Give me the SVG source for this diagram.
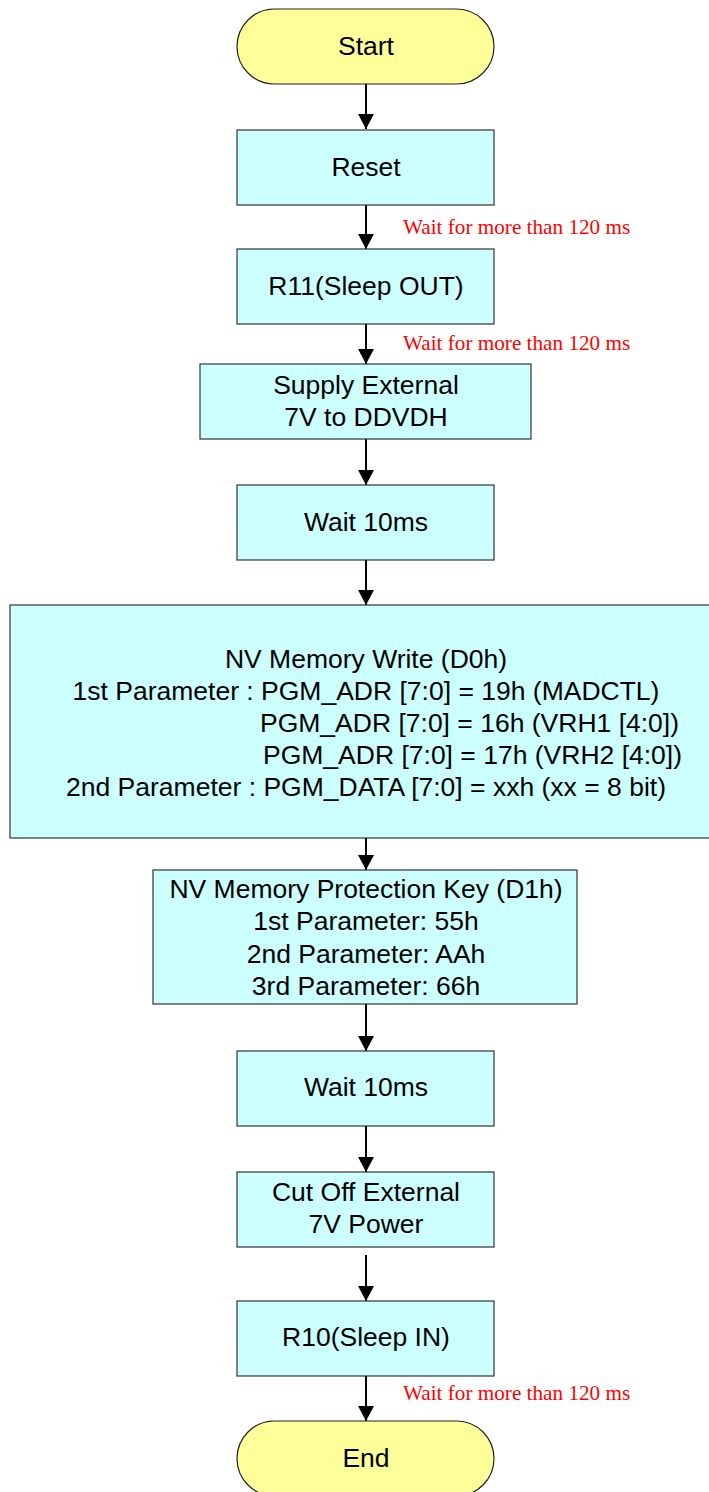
<svg xmlns="http://www.w3.org/2000/svg" width="709" height="1492" viewBox="0 0 709 1492">
<style>
.box{fill:#CCFFFF;stroke:#333;stroke-width:1.2}
.term{fill:#FFFF99;stroke:#222;stroke-width:1.2}
.t{font-family:"Liberation Sans",Arial,sans-serif;font-size:26.5px;fill:#000;text-anchor:middle}
.ts{font-family:"Liberation Sans",Arial,sans-serif;font-size:26.5px;fill:#000}
.note{font-family:"Liberation Serif","Times New Roman",serif;font-size:21.2px;fill:#FF0000}
.c{stroke:#000;stroke-width:2;fill:none;marker-end:url(#ah)}
</style>
<defs>
<marker id="ah" markerUnits="userSpaceOnUse" markerWidth="18" markerHeight="18" viewBox="0 0 18 18" refX="15" refY="9" orient="auto">
<path d="M0,1 L15,9 L0,17 Z" fill="#000"/>
</marker>
</defs>
<rect width="709" height="1492" fill="#fff"/>
<g id="connectors">
<line class="c" x1="366" y1="84" x2="366" y2="129"/>
<line class="c" x1="366" y1="205" x2="366" y2="249"/>
<line class="c" x1="366" y1="324" x2="366" y2="364"/>
<line class="c" x1="366" y1="439" x2="366" y2="485"/>
<line class="c" x1="366" y1="560" x2="366" y2="605"/>
<line class="c" x1="366" y1="838" x2="366" y2="870"/>
<line class="c" x1="366" y1="1004" x2="366" y2="1051"/>
<line class="c" x1="366" y1="1126" x2="366" y2="1172"/>
<line class="c" x1="366" y1="1255" x2="366" y2="1301"/>
<line class="c" x1="366" y1="1376" x2="366" y2="1421"/>
<text class="note" x="403" y="234">Wait for more than 120 ms</text>
<text class="note" x="403" y="350">Wait for more than 120 ms</text>
<text class="note" x="403" y="1400">Wait for more than 120 ms</text>
</g>
<g id="start">
<rect class="term" x="237" y="9" width="257" height="75" rx="37.5" ry="37.5"/>
<text class="t" x="366" y="55">Start</text>
</g>
<g id="reset">
<rect class="box" x="237" y="130" width="257" height="75"/>
<text class="t" x="366" y="176">Reset</text>
</g>
<g id="sleepout">
<rect class="box" x="237" y="249" width="257" height="75"/>
<text class="t" x="366" y="295">R11(Sleep OUT)</text>
</g>
<g id="supply">
<rect class="box" x="200" y="364" width="331" height="75"/>
<text class="t" x="366" y="394">Supply External</text>
<text class="t" x="366" y="426">7V to DDVDH</text>
</g>
<g id="wait1">
<rect class="box" x="237" y="485" width="257" height="75"/>
<text class="t" x="366" y="531">Wait 10ms</text>
</g>
<g id="nvwrite">
<rect class="box" x="10" y="605" width="712" height="233"/>
<text class="t" x="366" y="668">NV Memory Write (D0h)</text>
<text class="t" x="366" y="700">1st Parameter : PGM_ADR [7:0] = 19h (MADCTL)</text>
<text class="ts" x="260" y="732">PGM_ADR [7:0] = 16h (VRH1 [4:0])</text>
<text class="ts" x="263" y="764">PGM_ADR [7:0] = 17h (VRH2 [4:0])</text>
<text class="t" x="366" y="796">2nd Parameter : PGM_DATA [7:0] = xxh (xx = 8 bit)</text>
</g>
<g id="nvkey">
<rect class="box" x="153" y="870" width="424" height="134"/>
<text class="t" x="366" y="898">NV Memory Protection Key (D1h)</text>
<text class="t" x="366" y="930">1st Parameter: 55h</text>
<text class="t" x="366" y="963">2nd Parameter: AAh</text>
<text class="t" x="366" y="995">3rd Parameter: 66h</text>
</g>
<g id="wait2">
<rect class="box" x="237" y="1051" width="257" height="75"/>
<text class="t" x="366" y="1096">Wait 10ms</text>
</g>
<g id="cutoff">
<rect class="box" x="237" y="1172" width="257" height="75"/>
<text class="t" x="366" y="1201">Cut Off External</text>
<text class="t" x="366" y="1233">7V Power</text>
</g>
<g id="sleepin">
<rect class="box" x="237" y="1301" width="257" height="75"/>
<text class="t" x="366" y="1346">R10(Sleep IN)</text>
</g>
<g id="end">
<rect class="term" x="237" y="1421" width="257" height="75" rx="37.5" ry="37.5"/>
<text class="t" x="366" y="1467">End</text>
</g>
</svg>
